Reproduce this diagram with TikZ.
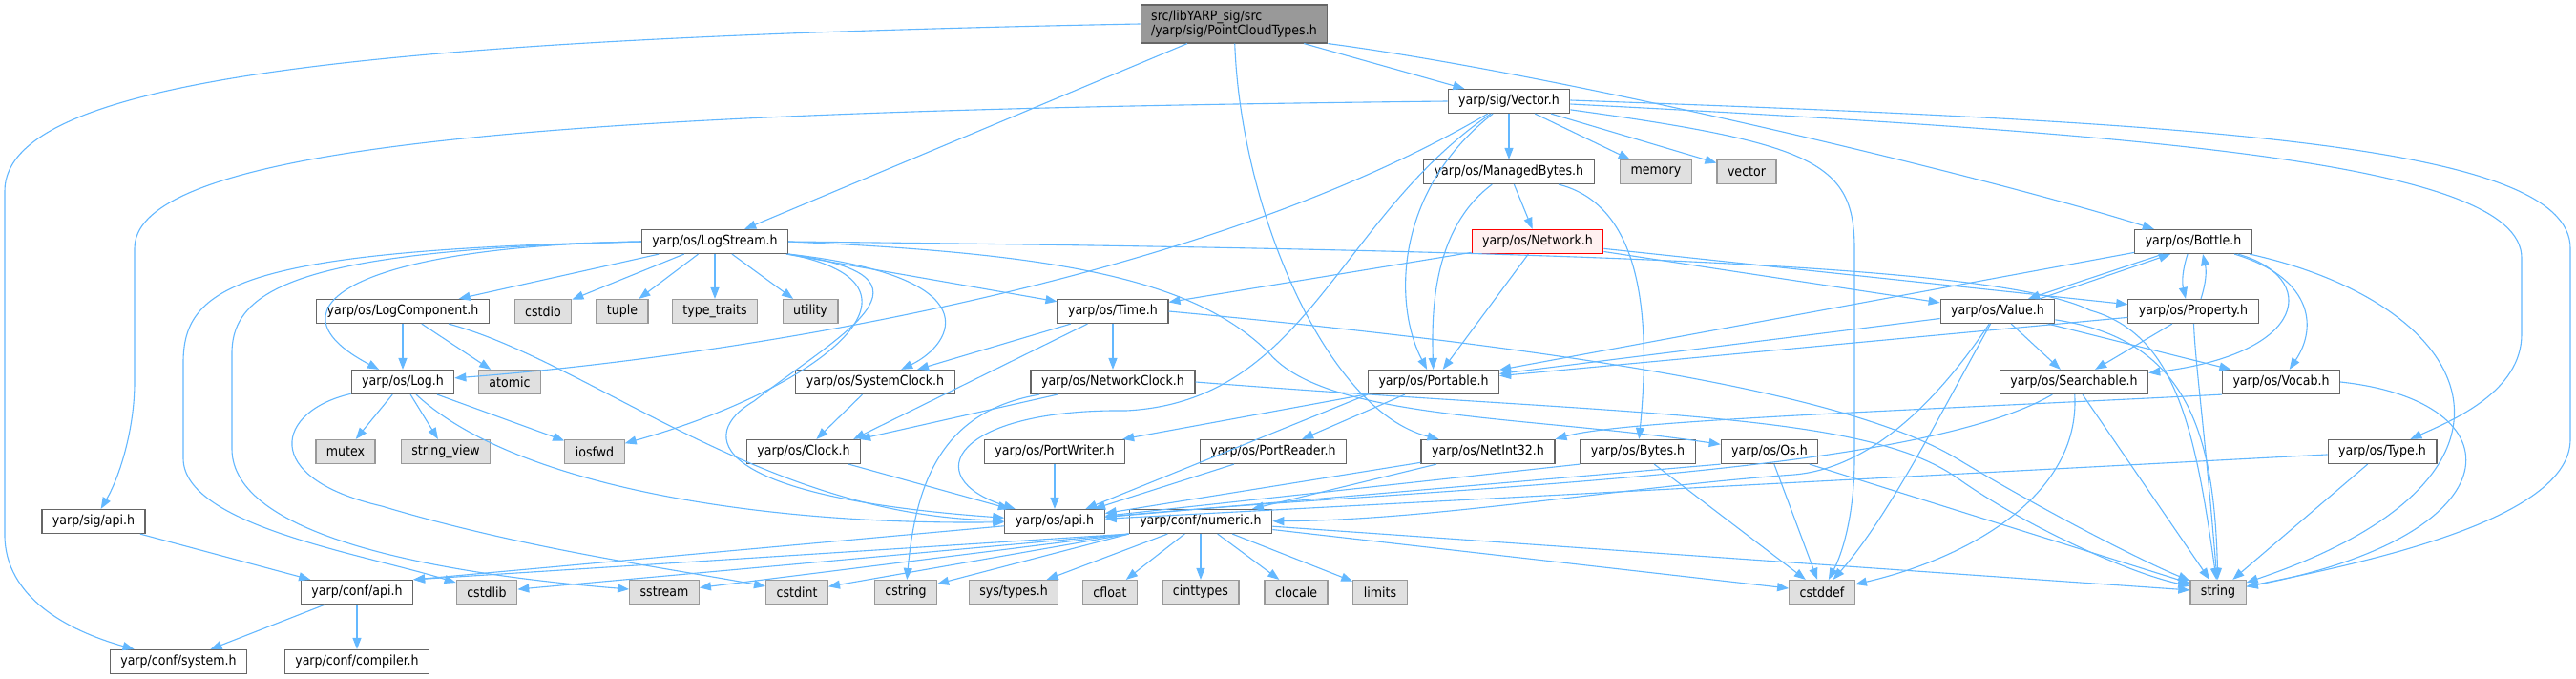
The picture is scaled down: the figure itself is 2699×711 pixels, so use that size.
\documentclass[tikz,border=0pt]{standalone}
\usepackage{fontspec}
\setmainfont{DejaVu Sans Condensed}
\usetikzlibrary{arrows.meta}
\definecolor{edgeblue}{HTML}{63B8FF}
\definecolor{boxgray}{HTML}{666666}
\definecolor{sysgray}{HTML}{999999}
\definecolor{sysfill}{HTML}{E0E0E0}
\definecolor{rootfill}{HTML}{999999}
\definecolor{truncfill}{HTML}{FFF0F0}
\begin{document}
\begin{tikzpicture}[x=1pt, y=-1pt,
  file/.style={draw=boxgray, fill=white, line width=1.2pt, minimum height=25pt, inner xsep=11pt, inner ysep=0pt, font=\fontsize{14}{15}\selectfont},
  sys/.style={file, draw=sysgray, fill=sysfill},
  root/.style={file, fill=rootfill, align=left, minimum height=40pt},
  trunc/.style={file, draw=red, fill=truncfill},
  inc/.style={draw=edgeblue, line width=1.1pt, -{Triangle[length=12pt,width=9pt]}}]
  \useasboundingbox[fill=white] (0,0) rectangle (2699,711);

  % Nodes
  \node[root] (pct) at (1293,25) {src/libYARP\_sig/src\\/yarp/sig/PointCloudTypes.h};
  \node[file] (vector) at (1581,106) {yarp/sig/Vector.h};
  \node[file] (managed) at (1581,180) {yarp/os/ManagedBytes.h};
  \node[sys] (memory) at (1735,180) {memory};
  \node[sys] (stdvector) at (1830,180) {vector};
  \node[file] (logstream) at (749,253) {yarp/os/LogStream.h};
  \node[trunc] (network) at (1611,253) {yarp/os/Network.h};
  \node[file] (bottle) at (2298,253) {yarp/os/Bottle.h};
  \node[file] (logcomp) at (422,326) {yarp/os/LogComponent.h};
  \node[sys] (cstdio) at (569,326) {cstdio};
  \node[sys] (tuple) at (652,326) {tuple};
  \node[sys] (typetraits) at (749,326) {type\_traits};
  \node[sys] (utility) at (849,326) {utility};
  \node[file] (time) at (1166,326) {yarp/os/Time.h};
  \node[file] (value) at (2093,326) {yarp/os/Value.h};
  \node[file] (property) at (2298,326) {yarp/os/Property.h};
  \node[file] (log) at (422,400) {yarp/os/Log.h};
  \node[sys] (atomic) at (534,400) {atomic};
  \node[file] (sysclock) at (917,400) {yarp/os/SystemClock.h};
  \node[file] (netclock) at (1166,400) {yarp/os/NetworkClock.h};
  \node[file] (portable) at (1502,400) {yarp/os/Portable.h};
  \node[file] (searchable) at (2173,400) {yarp/os/Searchable.h};
  \node[file] (vocab) at (2390,400) {yarp/os/Vocab.h};
  \node[sys] (mutex) at (362,473) {mutex};
  \node[sys] (strview) at (467,473) {string\_view};
  \node[sys] (iosfwd) at (623,473) {iosfwd};
  \node[file] (clock) at (842,473) {yarp/os/Clock.h};
  \node[file] (portwriter) at (1105,473) {yarp/os/PortWriter.h};
  \node[file] (portreader) at (1334,473) {yarp/os/PortReader.h};
  \node[file] (netint) at (1559,473) {yarp/os/NetInt32.h};
  \node[file] (bytes) at (1716,473) {yarp/os/Bytes.h};
  \node[file] (os) at (1854,473) {yarp/os/Os.h};
  \node[file] (type) at (2496,473) {yarp/os/Type.h};
  \node[file] (sigapi) at (98,546) {yarp/sig/api.h};
  \node[file] (osapi) at (1105,546) {yarp/os/api.h};
  \node[file] (numeric) at (1258,546) {yarp/conf/numeric.h};
  \node[file] (confapi) at (374,620) {yarp/conf/api.h};
  \node[sys] (cstdlib) at (510,620) {cstdlib};
  \node[sys] (sstream) at (696,620) {sstream};
  \node[sys] (cstdint) at (835,620) {cstdint};
  \node[sys] (cstring) at (949,620) {cstring};
  \node[sys] (systypes) at (1062,620) {sys/types.h};
  \node[sys] (cfloat) at (1163,620) {cfloat};
  \node[sys] (cinttypes) at (1258,620) {cinttypes};
  \node[sys] (clocale) at (1358,620) {clocale};
  \node[sys] (limits) at (1446,620) {limits};
  \node[sys] (cstddef) at (1909,620) {cstddef};
  \node[sys] (string) at (2324,620) {string};
  \node[file] (system) at (187,693) {yarp/conf/system.h};
  \node[file] (compiler) at (374,693) {yarp/conf/compiler.h};

  % Edges
  \draw[inc] (pct.west) .. controls (400,40) and (5,80) .. (5,200) -- (5,560) .. controls (5,625) and (70,660) .. (system);
  \draw[inc] (pct) -- (logstream);
  \draw[inc] (pct) -- (vector);
  \draw[inc] (pct) .. controls (1300,220) and (1390,430) .. (netint);
  \draw[inc] (pct.south east) .. controls (1650,80) and (2100,190) .. (bottle);

  \draw[inc] (vector.west) .. controls (700,115) and (141,140) .. (141,260) -- (141,400) .. controls (141,450) and (125,500) .. (sigapi);
  \draw[inc] (vector) .. controls (1250,300) and (750,375) .. (log);
  \draw[inc] (vector) -- (managed);
  \draw[inc] (vector) -- (memory);
  \draw[inc] (vector) -- (stdvector);
  \draw[inc] (vector) .. controls (1900,150) and (1943,170) .. (1943,260) -- (1943,480) .. controls (1943,540) and (1930,580) .. (cstddef);
  \draw[inc] ([yshift=1pt]vector.east) .. controls (2300,128) and (2693,150) .. (2693,260) -- (2693,460) .. controls (2693,540) and (2500,585) .. (string);
  \draw[inc] ([yshift=-3pt]vector.east) .. controls (2250,140) and (2642,170) .. (2642,270) -- (2642,350) .. controls (2642,410) and (2570,440) .. (type);
  \draw[inc] (vector) .. controls (1460,200) and (1460,320) .. (portable);
  \draw[inc] (vector) .. controls (1400,230) and (1370,420) .. (1180,430) .. controls (1000,428) and (960,500) .. (osapi);

  \draw[inc] (managed) -- (network);
  \draw[inc] (managed) .. controls (1500,240) and (1500,330) .. (portable);
  \draw[inc] (managed) .. controls (1720,215) and (1730,330) .. (bytes);

  \draw[inc] (network) -- (time);
  \draw[inc] (network) -- (portable);
  \draw[inc] (network) -- (value);
  \draw[inc] (network) -- (property);

  \draw[inc] (logstream) -- (logcomp);
  \draw[inc] (logstream) -- (cstdio);
  \draw[inc] (logstream) -- (tuple);
  \draw[inc] (logstream) -- (typetraits);
  \draw[inc] (logstream) -- (utility);
  \draw[inc] (logstream) -- (time);
  \draw[inc] (logstream.west) .. controls (380,258) and (270,320) .. (log);
  \draw[inc] (logstream.west) .. controls (250,262) and (192,300) .. (192,380) -- (192,480) .. controls (192,550) and (380,580) .. (cstdlib);
  \draw[inc] (logstream.west) .. controls (320,262) and (243,300) .. (243,370) -- (243,470) .. controls (243,560) and (450,600) .. (sstream);
  \draw[inc] (logstream.south east) .. controls (1000,300) and (850,410) .. (iosfwd);
  \draw[inc] (logstream.south east) .. controls (1000,290) and (880,350) .. (790,420) .. controls (730,455) and (740,520) .. (osapi);
  \draw[inc] (logstream.south east) .. controls (1040,290) and (1000,360) .. (sysclock);
  \draw[inc] (logstream.east) .. controls (1100,265) and (1250,290) .. (1330,370) .. controls (1390,440) and (1600,435) .. (os);
  \draw[inc] (logstream.east) .. controls (1700,262) and (2100,280) .. (2190,325) .. controls (2280,350) and (2300,450) .. (string);

  \draw[inc] (logcomp) -- (log);
  \draw[inc] (logcomp) -- (atomic);
  \draw[inc] (logcomp) .. controls (620,380) and (800,540) .. (osapi);

  \draw[inc] (log) -- (mutex);
  \draw[inc] (log) -- (strview);
  \draw[inc] (log) -- (iosfwd);
  \draw[inc] (log) .. controls (290,430) and (270,500) .. (400,530) .. controls (550,575) and (700,595) .. (cstdint);
  \draw[inc] (log) .. controls (540,510) and (800,550) .. (osapi);

  \draw[inc] (time) -- (sysclock);
  \draw[inc] (time) -- (netclock);
  \draw[inc] (time) -- ([xshift=-8pt]clock.north east);
  \draw[inc] (time.east) .. controls (1700,370) and (1950,420) .. (2050,480) .. controls (2150,540) and (2250,590) .. (string);

  \draw[inc] (sysclock) -- (clock);
  \draw[inc] (netclock) -- (clock);
  \draw[inc] (netclock) .. controls (990,430) and (960,500) .. (cstring);
  \draw[inc] (netclock.east) .. controls (1700,435) and (1950,430) .. (2050,500) .. controls (2120,550) and (2230,600) .. (string);

  \draw[inc] (clock) -- (osapi);
  \draw[inc] (portwriter) -- (osapi);
  \draw[inc] (portreader) -- (osapi);
  \draw[inc] (portable) -- (portwriter);
  \draw[inc] (portable) -- (portreader);
  \draw[inc] (portable.south west) -- (osapi);

  \draw[inc] (netint) -- (osapi);
  \draw[inc] (netint) -- (numeric);
  \draw[inc] (bytes.south west) -- (osapi);
  \draw[inc] (bytes) -- (cstddef);
  \draw[inc] (os.south west) -- (osapi);
  \draw[inc] (os) -- (cstddef);
  \draw[inc] (os) -- (string);
  \draw[inc] (type) -- (osapi);
  \draw[inc] (type) -- (string);

  \draw[inc] (searchable) .. controls (2000,500) and (1500,510) .. (osapi);
  \draw[inc] (searchable) .. controls (2180,520) and (2060,585) .. (cstddef);
  \draw[inc] (searchable) -- (string);
  \draw[inc] (vocab.south west) .. controls (2000,430) and (1700,440) .. (netint.north east);
  \draw[inc] (vocab.east) .. controls (2640,420) and (2640,560) .. (string);

  \draw[inc] ([xshift=-32pt]bottle.south) -- ([xshift=32pt]value.north);
  \draw[inc] ([xshift=44pt]value.north) -- ([xshift=-24pt]bottle.south);
  \draw[inc] ([xshift=-6pt]bottle.south) to[bend right=15] ([xshift=-8pt]property.north);
  \draw[inc] ([xshift=8pt]property.north) to[bend right=15] ([xshift=10pt]bottle.south);
  \draw[inc] (bottle) -- (portable);
  \draw[inc] (bottle) .. controls (2430,290) and (2420,370) .. (searchable);
  \draw[inc] (bottle) .. controls (2420,290) and (2430,340) .. (vocab);
  \draw[inc] (bottle) .. controls (2600,320) and (2680,500) .. (string);

  \draw[inc] (property) -- (searchable);
  \draw[inc] (property) -- (portable);
  \draw[inc] (property) .. controls (2300,380) and (2310,450) .. (string);

  \draw[inc] (value) -- (searchable);
  \draw[inc] (value) -- (vocab);
  \draw[inc] (value) -- (portable);
  \draw[inc] (value) .. controls (2290,355) and (2320,450) .. (string);
  \draw[inc] (value) .. controls (2040,420) and (1980,540) .. (cstddef);
  \draw[inc] (value) .. controls (2030,420) and (1960,490) .. (1880,497) .. controls (1700,510) and (1500,545) .. (numeric);

  \draw[inc] (sigapi) -- (confapi);
  \draw[inc] (osapi) -- (confapi.north east);
  \draw[inc] (numeric.south west) -- (confapi.north east);
  \draw[inc] (numeric.south west) -- (cstdlib);
  \draw[inc] (numeric.south west) -- (sstream);
  \draw[inc] (numeric.south west) -- (cstdint);
  \draw[inc] (numeric.south west) -- (cstring);
  \draw[inc] (numeric) -- (systypes);
  \draw[inc] (numeric) -- (cfloat);
  \draw[inc] (numeric) -- (cinttypes);
  \draw[inc] (numeric) -- (clocale);
  \draw[inc] (numeric) -- (limits);
  \draw[inc] (numeric) -- (cstddef);
  \draw[inc] (numeric) -- (string);
  \draw[inc] (confapi) -- (system);
  \draw[inc] (confapi) -- (compiler);
\end{tikzpicture}
\end{document}
